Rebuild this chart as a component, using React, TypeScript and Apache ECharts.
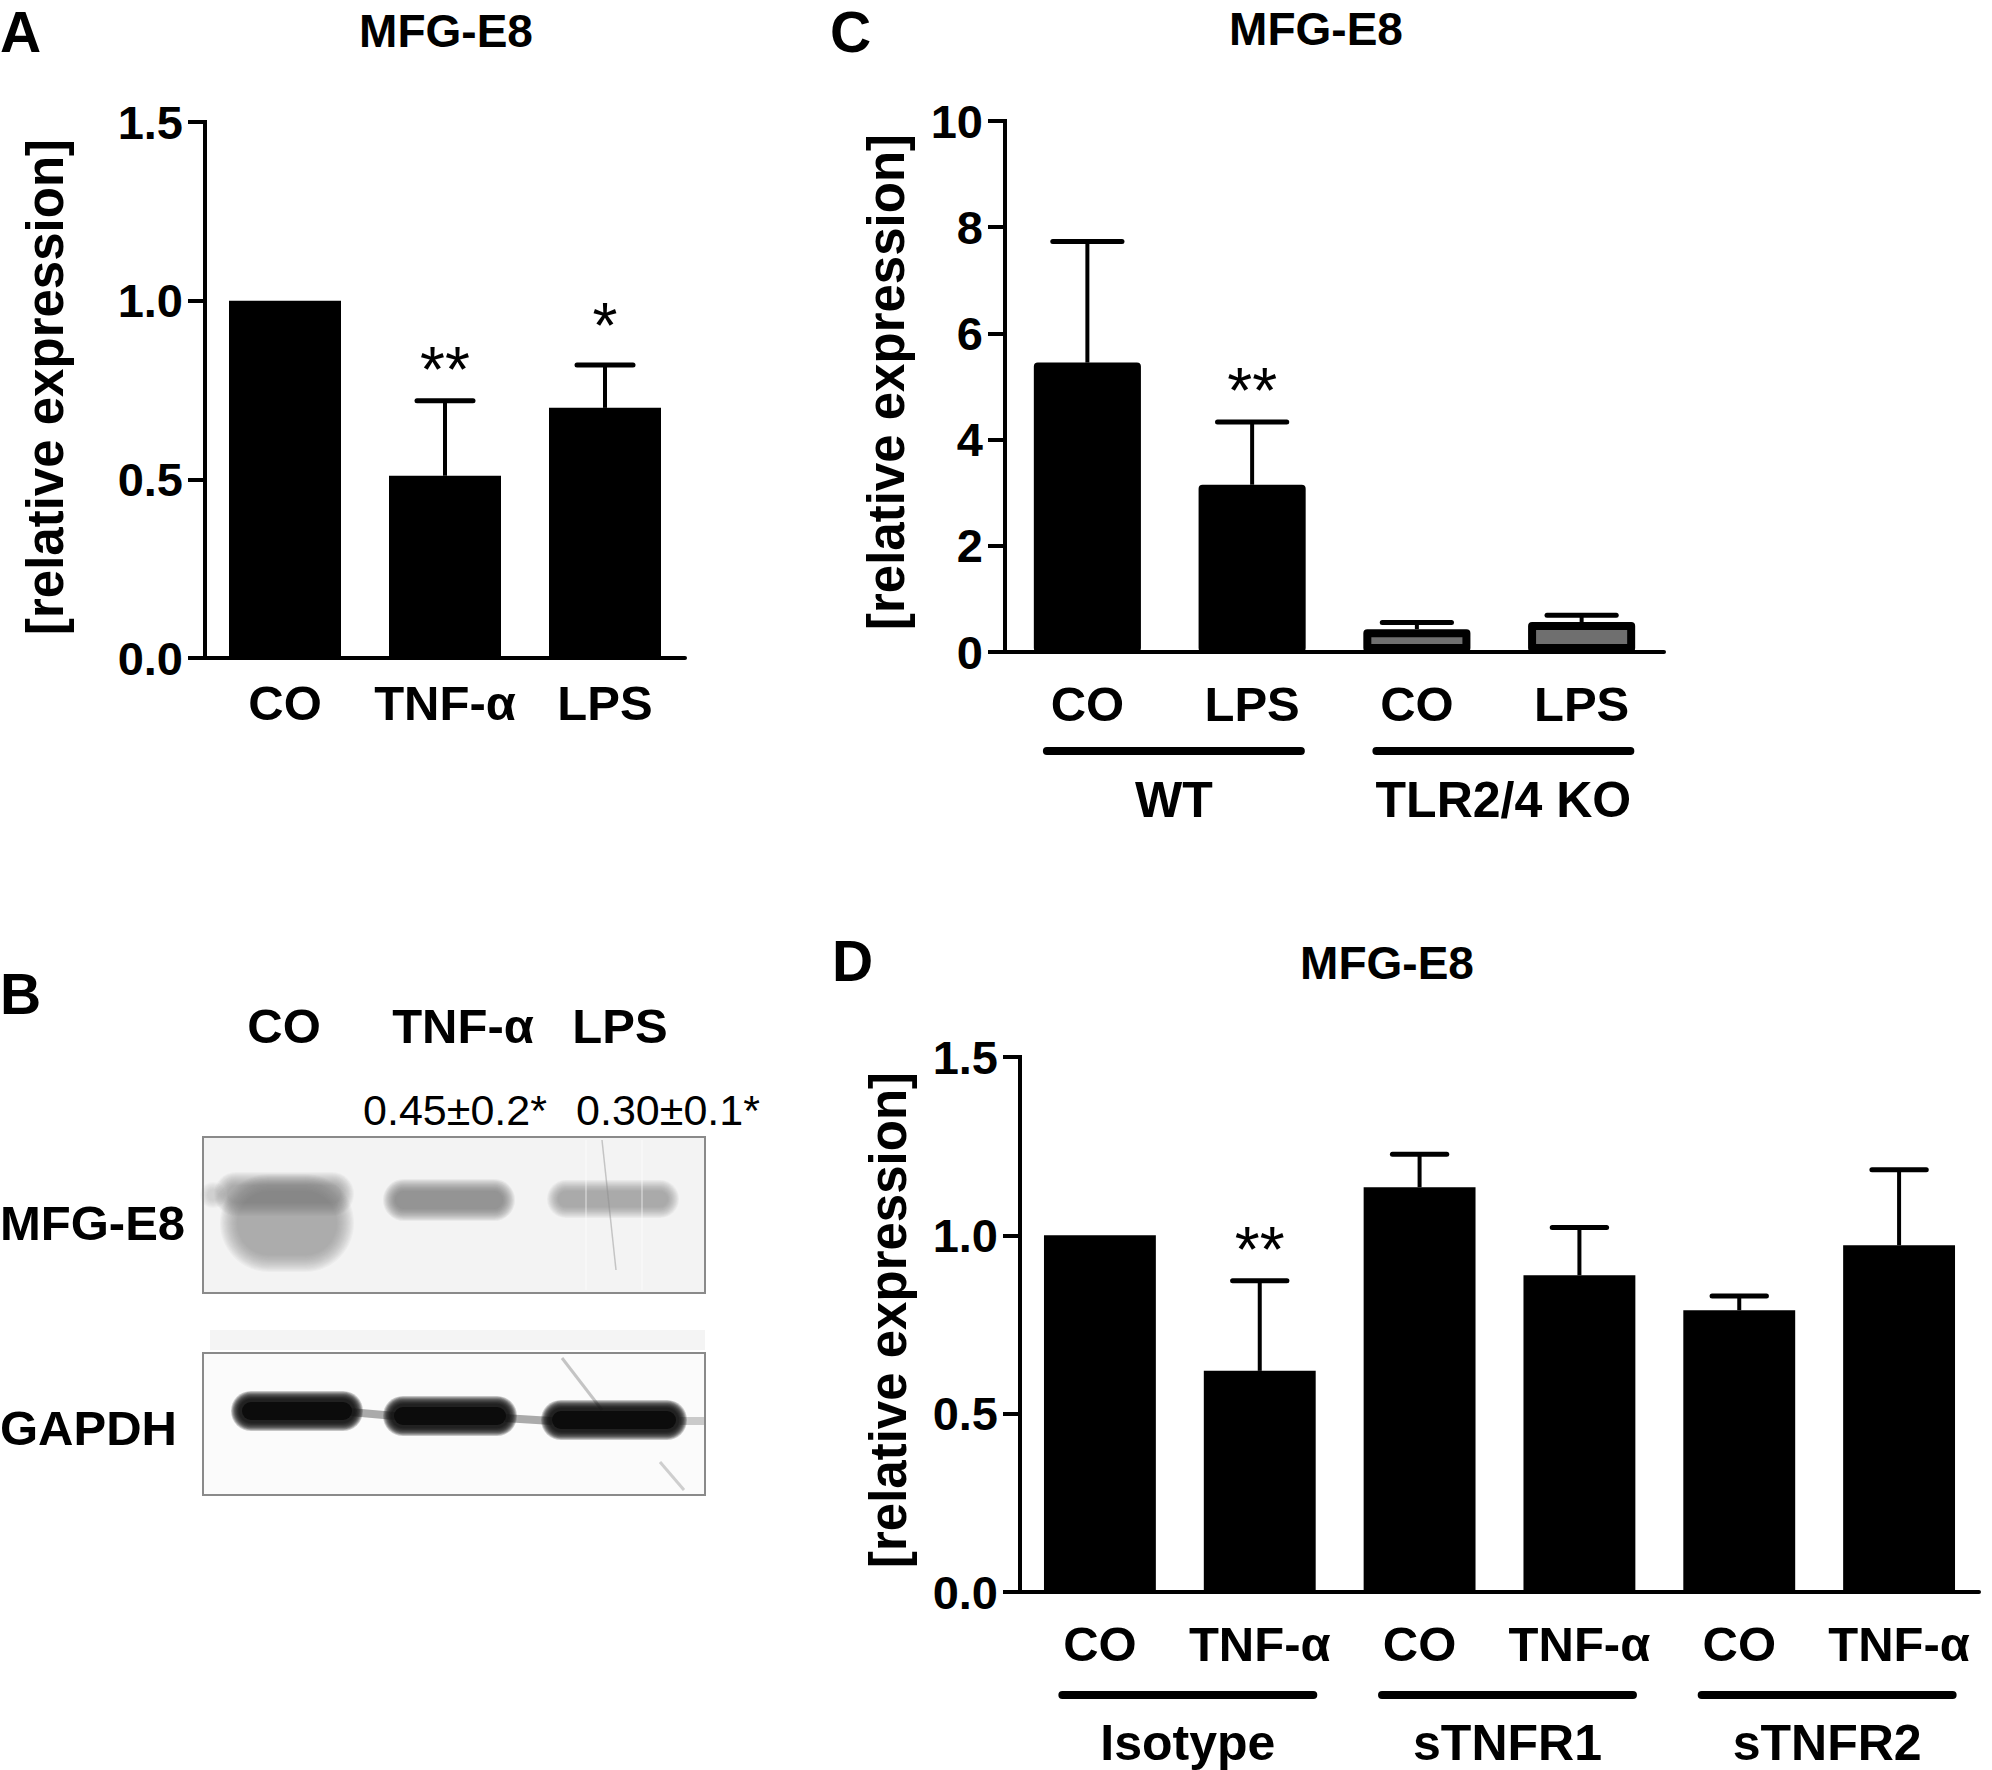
import React, { useEffect, useRef } from 'react';
import * as echarts from 'echarts';

const FONT = '"Liberation Sans", Arial, Helvetica, sans-serif';

// ---------- Panel A : MFG-E8 qPCR ----------
const aCategories = ['CO', 'TNF-α', 'LPS'];
const aMeans = [1.0, 0.51, 0.7];
const aErrorTops: (number | null)[] = [null, 0.72, 0.82];
const aSignificance = ['', '**', '*'];
const aYMin = 0;
const aYMax = 1.5;
const aYInterval = 0.5;

// ---------- Panel C : WT vs TLR2/4 KO ----------
const cCategories = ['CO', 'LPS', 'CO', 'LPS'];
const cGenotype = ['WT', 'WT', 'KO', 'KO'];
const cMeans = [5.45, 3.15, 0.43, 0.565];
const cErrorTops: (number | null)[] = [7.73, 4.33, 0.555, 0.69];
const cSignificance = ['', '**', '', ''];
const cGroupLabels = ['WT', 'TLR2/4 KO'];
const cGroupMembers = [[0, 1], [2, 3]];
const cYMin = 0;
const cYMax = 10;
const cYInterval = 2;

// ---------- Panel D : soluble TNF receptors ----------
const dCategories = ['CO', 'TNF-α', 'CO', 'TNF-α', 'CO', 'TNF-α'];
const dMeans = [1.0, 0.62, 1.135, 0.888, 0.79, 0.972];
const dErrorTops: (number | null)[] = [null, 0.873, 1.227, 1.022, 0.83, 1.184];
const dSignificance = ['', '**', '', '', '', ''];
const dGroupLabels = ['Isotype', 'sTNFR1', 'sTNFR2'];
const dGroupMembers = [[0, 1], [2, 3], [4, 5]];
const dYMin = 0;
const dYMax = 1.5;
const dYInterval = 0.5;

// ---------- Panel B : western blot ----------
const bLanes = ['CO', 'TNF-α', 'LPS'];
const bQuantification = ['', '0.45±0.2*', '0.30±0.1*'];
const bBlots = ['MFG-E8', 'GAPDH'];

const black = '#000';

function yAxis(gridIndex: number, min: number, max: number, interval: number, decimals: number) {
  return {
    type: 'value',
    gridIndex,
    min,
    max,
    interval,
    axisLine: { show: true, lineStyle: { color: black, width: 4, cap: 'square' } },
    axisTick: { show: true, length: 17, lineStyle: { color: black, width: 4 } },
    splitLine: { show: false },
    axisLabel: {
      color: black,
      fontFamily: FONT,
      fontWeight: 'bold',
      fontSize: 47,
      margin: 22,
      formatter: (v: number) => v.toFixed(decimals),
    },
  };
}

function xAxis(gridIndex: number, data: string[], margin: number) {
  return {
    type: 'category',
    gridIndex,
    data,
    axisLine: { show: true, onZero: false, lineStyle: { color: black, width: 4 } },
    axisTick: { show: false },
    axisLabel: {
      color: black,
      fontFamily: FONT,
      fontWeight: 'bold',
      fontSize: 49,
      margin,
      interval: 0,
    },
  };
}

function errorSeries(axisIndex: number, means: number[], tops: (number | null)[], sig: string[], capRatio: number) {
  const data: number[][] = [];
  means.forEach((m, i) => {
    const t = tops[i];
    if (t !== null && t !== undefined) data.push([i, m, t]);
  });
  return {
    type: 'custom',
    xAxisIndex: axisIndex,
    yAxisIndex: axisIndex,
    z: 5,
    silent: true,
    data,
    renderItem: (params: any, api: any) => {
      const i = api.value(0);
      const base = api.coord([i, api.value(1)]);
      const top = api.coord([i, api.value(2)]);
      const band = api.size([1, 0])[0];
      const half = (band * capRatio) / 2;
      const children: any[] = [
        {
          type: 'line',
          shape: { x1: base[0], y1: base[1], x2: top[0], y2: top[1] },
          style: { stroke: black, lineWidth: 4 },
        },
        {
          type: 'line',
          shape: { x1: top[0] - half, y1: top[1], x2: top[0] + half, y2: top[1] },
          style: { stroke: black, lineWidth: 5, lineCap: 'round' },
        },
      ];
      if (sig[i]) {
        const extra = sig[i].length === 1 ? 8 : 0;
        children.push({
          type: 'text',
          x: top[0],
          y: top[1] - 31 - extra,
          style: {
            text: sig[i],
            fill: black,
            font: `64px ${FONT}`,
            align: 'center',
            verticalAlign: 'middle',
          },
        });
      }
      return { type: 'group', children };
    },
  };
}

function text(x: number, y: number, t: string, size: number, opts: any = {}) {
  return {
    type: 'text',
    x,
    y,
    rotation: opts.rotation || 0,
    z: 10,
    style: {
      text: t,
      fill: black,
      font: `${opts.weight || 'bold'} ${size}px ${FONT}`,
      align: opts.align || 'center',
      verticalAlign: 'middle',
    },
  };
}

// soft-edged band: stacked translucent rounded rects (blurred look)
function softBand(g: any[], x: number, y: number, w: number, h: number, grey: number, target: number, spread: number, steps: number) {
  const alpha = 1 - Math.pow(1 - target, 1 / steps);
  for (let k = steps; k >= 1; k--) {
    const e = (spread * k) / steps;
    g.push({
      type: 'rect',
      z: 2,
      silent: true,
      shape: { x: x - e, y: y - e, width: w + 2 * e, height: h + 2 * e, r: Math.min(h / 2 + e, (w + 2 * e) / 2) },
      style: { fill: `rgba(${grey},${grey},${grey},${alpha.toFixed(4)})` },
    });
  }
}

function staticGraphics(): any[] {
  const g: any[] = [];
  // panel letters
  g.push(text(0, 32, 'A', 57, { align: 'left' }));
  g.push(text(830, 32, 'C', 57, { align: 'left' }));
  g.push(text(0, 994, 'B', 57, { align: 'left' }));
  g.push(text(832, 961, 'D', 57, { align: 'left' }));
  // titles
  g.push(text(446, 31, 'MFG-E8', 46));
  g.push(text(1316, 29, 'MFG-E8', 46));
  g.push(text(1387, 963, 'MFG-E8', 46));
  // y-axis names
  g.push(text(45, 387, '[relative expression]', 51, { rotation: Math.PI / 2 }));
  g.push(text(886, 382, '[relative expression]', 51, { rotation: Math.PI / 2 }));
  g.push(text(888, 1320, '[relative expression]', 51, { rotation: Math.PI / 2 }));

  // ---- Panel B western blot ----
  const laneX = [284, 463, 620];
  bLanes.forEach((l, i) => g.push(text(laneX[i], 1026, l, 49)));
  const quantX = [0, 455, 668];
  bQuantification.forEach((q, i) => {
    if (q) g.push(text(quantX[i], 1110, q, 43, { weight: 'normal' }));
  });
  g.push(text(0, 1223, bBlots[0], 49, { align: 'left' }));
  g.push(text(0, 1428, bBlots[1], 49, { align: 'left' }));

  // MFG-E8 membrane
  g.push({ type: 'rect', z: 1, shape: { x: 203, y: 1137, width: 502, height: 156 }, style: { fill: '#f3f3f3', stroke: '#8a8a8a', lineWidth: 2 } });
  softBand(g, 238, 1192, 98, 62, 130, 0.62, 18, 16); // CO smear body
  softBand(g, 228, 1186, 112, 16, 105, 0.5, 14, 14); // CO band
  softBand(g, 208, 1190, 10, 10, 150, 0.3, 8, 8); // faint left edge
  softBand(g, 396, 1192, 106, 16, 120, 0.72, 13, 14); // TNF-α band
  softBand(g, 559, 1192, 108, 14, 130, 0.6, 12, 14); // LPS band
  g.push({ type: 'line', z: 3, shape: { x1: 602, y1: 1140, x2: 616, y2: 1270 }, style: { stroke: 'rgba(140,140,140,0.45)', lineWidth: 1.5 } });
  g.push({ type: 'line', z: 3, shape: { x1: 586, y1: 1140, x2: 586, y2: 1290 }, style: { stroke: 'rgba(255,255,255,0.35)', lineWidth: 2 } });
  g.push({ type: 'line', z: 3, shape: { x1: 642, y1: 1140, x2: 642, y2: 1290 }, style: { stroke: 'rgba(255,255,255,0.35)', lineWidth: 2 } });

  // GAPDH membrane
  g.push({ type: 'rect', z: 1, shape: { x: 210, y: 1330, width: 495, height: 20 }, style: { fill: '#f4f4f4' } });
  g.push({ type: 'rect', z: 1, shape: { x: 203, y: 1353, width: 502, height: 142 }, style: { fill: '#fbfbfb', stroke: '#8a8a8a', lineWidth: 2 } });
  g.push({ type: 'line', z: 2, shape: { x1: 350, y1: 1412, x2: 395, y2: 1416 }, style: { stroke: 'rgba(70,70,70,0.45)', lineWidth: 8 } });
  g.push({ type: 'line', z: 2, shape: { x1: 505, y1: 1418, x2: 552, y2: 1421 }, style: { stroke: 'rgba(70,70,70,0.45)', lineWidth: 8 } });
  g.push({ type: 'line', z: 2, shape: { x1: 680, y1: 1421, x2: 704, y2: 1421 }, style: { stroke: 'rgba(90,90,90,0.3)', lineWidth: 8 } });
  g.push({ type: 'line', z: 2, shape: { x1: 562, y1: 1358, x2: 602, y2: 1410 }, style: { stroke: 'rgba(70,70,70,0.3)', lineWidth: 3 } });
  g.push({ type: 'line', z: 2, shape: { x1: 660, y1: 1462, x2: 684, y2: 1490 }, style: { stroke: 'rgba(70,70,70,0.25)', lineWidth: 3 } });
  const gapdhBands = [
    { x: 240, y: 1400, w: 114, h: 22 },
    { x: 392, y: 1405, w: 116, h: 22 },
    { x: 550, y: 1409, w: 128, h: 22 },
  ];
  gapdhBands.forEach((b) => {
    softBand(g, b.x, b.y, b.w, b.h, 15, 0.92, 9, 12);
    g.push({ type: 'rect', z: 3, shape: { x: b.x + 2, y: b.y + 2, width: b.w - 4, height: b.h - 4, r: 9 }, style: { fill: '#0c0c0c' } });
  });
  return g;
}

function groupGraphics(chart: any, axisIndex: number, members: number[][], labels: string[], lineOffset: number, labelOffset: number, extL: number, extR: number): any[] {
  const g: any[] = [];
  const baseline = chart.convertToPixel({ yAxisIndex: axisIndex }, 0) as number;
  const px = (i: number) => chart.convertToPixel({ xAxisIndex: axisIndex }, i) as number;
  const band = px(1) - px(0);
  members.forEach((m, k) => {
    const x1 = px(m[0]) - band * extL;
    const x2 = px(m[m.length - 1]) + band * extR;
    const y = baseline + lineOffset;
    g.push({
      type: 'line',
      z: 10,
      shape: { x1: x1 + 4, y1: y, x2: x2 - 4, y2: y },
      style: { stroke: black, lineWidth: 8, lineCap: 'round' },
    });
    g.push(text((x1 + x2) / 2, baseline + labelOffset, labels[k], 50));
  });
  return g;
}

export default function App() {
  const ref = useRef<HTMLDivElement>(null);
  useEffect(() => {
    document.body.style.margin = '0';
    const chart = echarts.init(ref.current!, null, { renderer: 'svg' });
    const option: any = {
      animation: false,
      backgroundColor: '#fff',
      grid: [
        { left: 205, top: 122, width: 480, height: 536, outerBoundsMode: 'none' },
        { left: 1005, top: 121, width: 659, height: 531, outerBoundsMode: 'none' },
        { left: 1020, top: 1057, width: 959, height: 535, outerBoundsMode: 'none' },
      ],
      xAxis: [xAxis(0, aCategories, 20), xAxis(1, cCategories, 27), xAxis(2, dCategories, 27)],
      yAxis: [
        yAxis(0, aYMin, aYMax, aYInterval, 1),
        yAxis(1, cYMin, cYMax, cYInterval, 0),
        yAxis(2, dYMin, dYMax, dYInterval, 1),
      ],
      series: [
        {
          type: 'bar',
          xAxisIndex: 0,
          yAxisIndex: 0,
          data: aMeans,
          barWidth: '70%',
          itemStyle: { color: black },
          z: 2,
        },
        {
          type: 'bar',
          xAxisIndex: 1,
          yAxisIndex: 1,
          data: cMeans.map((v, i) => ({
            value: v,
            itemStyle: { color: cGenotype[i] === 'WT' ? black : '#6f6f6f' },
          })),
          barWidth: '65%',
          itemStyle: { borderColor: black, borderWidth: 8, borderJoin: 'round' },
          z: 2,
        },
        {
          type: 'bar',
          xAxisIndex: 2,
          yAxisIndex: 2,
          data: dMeans,
          barWidth: '70%',
          itemStyle: { color: black },
          z: 2,
        },
        errorSeries(0, aMeans, aErrorTops, aSignificance, 0.35),
        errorSeries(1, cMeans, cErrorTops, cSignificance, 0.42),
        errorSeries(2, dMeans, dErrorTops, dSignificance, 0.34),
      ],
    };
    chart.setOption(option);
    const graphics = [
      ...staticGraphics(),
      ...groupGraphics(chart, 1, cGroupMembers, cGroupLabels, 99, 148, 0.27, 0.32),
      ...groupGraphics(chart, 2, dGroupMembers, dGroupLabels, 103, 151, 0.26, 0.36),
    ];
    chart.setOption({ graphic: graphics });
    return () => chart.dispose();
  }, []);
  return <div ref={ref} style={{ width: 1992, height: 1770, background: '#fff' }} />;
}
